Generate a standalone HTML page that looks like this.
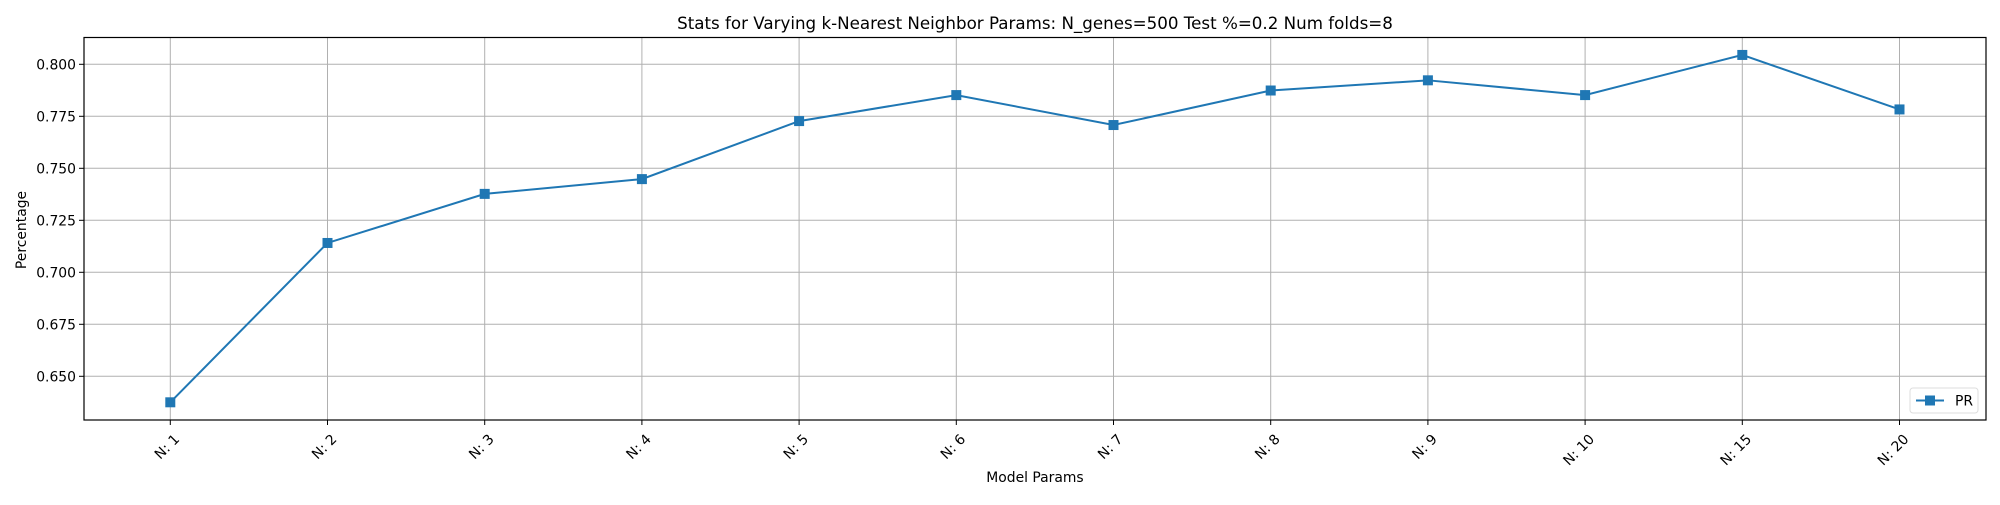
<!DOCTYPE html>
<html><head><meta charset="utf-8"><style>
body{margin:0;background:#fff;}
svg text{font-family:"DejaVu Sans","Liberation Sans",sans-serif;fill:#000;}
</style></head><body>
<svg id="chart" width="2000" height="500" xmlns="http://www.w3.org/2000/svg">
<text x="1035" y="29" font-size="16.7" text-anchor="middle">Stats for Varying k-Nearest Neighbor Params: N_genes=500 Test %=0.2 Num folds=8</text>
<g id="grid"></g>
<g id="axes"></g>
<g id="series"></g>
<text x="1035" y="482" font-size="13.9" text-anchor="middle">Model Params</text>
<text transform="translate(26,230) rotate(-90)" font-size="13.9" text-anchor="middle">Percentage</text>
<g>
<rect x="1910" y="388" width="68" height="25" rx="3" fill="#fff" stroke="#ddd"/>
<line x1="1916" y1="400.5" x2="1944" y2="400.5" stroke="#1f77b4" stroke-width="2"/>
<rect x="1925" y="395.5" width="10" height="10" fill="#1f77b4"/>
<text x="1955" y="405.5" font-size="13.9">PR</text>
</g>
</svg>
<script>
const categories=["N: 1","N: 2","N: 3","N: 4","N: 5","N: 6","N: 7","N: 8","N: 9","N: 10","N: 15","N: 20"];
const prValues=[0.6375,0.7141,0.7377,0.7448,0.7727,0.7852,0.7708,0.7874,0.7923,0.7852,0.8045,0.7783];
const yTicks=[0.650,0.675,0.700,0.725,0.750,0.775,0.800];
const NS="http://www.w3.org/2000/svg";
const L=84,R=1986,T=37.5,B=420;
const x=i=>170.3+i*157.2;
const y=v=>64.3+(0.800-v)*2080;
function mk(tag,attrs,parent){const e=document.createElementNS(NS,tag);for(const k in attrs)e.setAttribute(k,attrs[k]);parent.appendChild(e);return e;}
const grid=document.getElementById('grid'),axes=document.getElementById('axes'),series=document.getElementById('series');
yTicks.forEach(t=>{
 const g=mk('line',{x1:L,x2:R,y1:y(t),y2:y(t),stroke:'#b0b0b0','stroke-width':1},grid);
 
 
 const tk=mk('line',{x1:L-5,x2:L,y1:y(t),y2:y(t),stroke:'#000'},axes);
 
 
 const tx=mk('text',{x:L-8,y:y(t)+5,'font-size':13.9,'text-anchor':'end'},axes);
 tx.textContent=t.toFixed(3);
 
 
});
categories.forEach((c,i)=>{
 const g=mk('line',{x1:x(i),x2:x(i),y1:T,y2:B,stroke:'#b0b0b0','stroke-width':1},grid);
 
 
 const tk=mk('line',{x1:x(i),x2:x(i),y1:B,y2:B+5,stroke:'#000'},axes);
 
 
 const tx=mk('text',{transform:`translate(${x(i)+10},${B+20}) rotate(-45)`,'font-size':13.9,'text-anchor':'end'},axes);
 tx.textContent=c;
 
 
});
const fr=mk('rect',{x:L,y:T,width:R-L,height:B-T,fill:'none',stroke:'#000','stroke-width':1.2},axes);


const pl=mk('polyline',{points:prValues.map((v,i)=>x(i)+','+y(v)).join(' '),fill:'none',stroke:'#1f77b4','stroke-width':2},series);


prValues.forEach((v,i)=>{
 const m=mk('rect',{x:x(i)-5,y:y(v)-5,width:10,height:10,fill:'#1f77b4'},series);
 
 
});
</script>
</body></html>
